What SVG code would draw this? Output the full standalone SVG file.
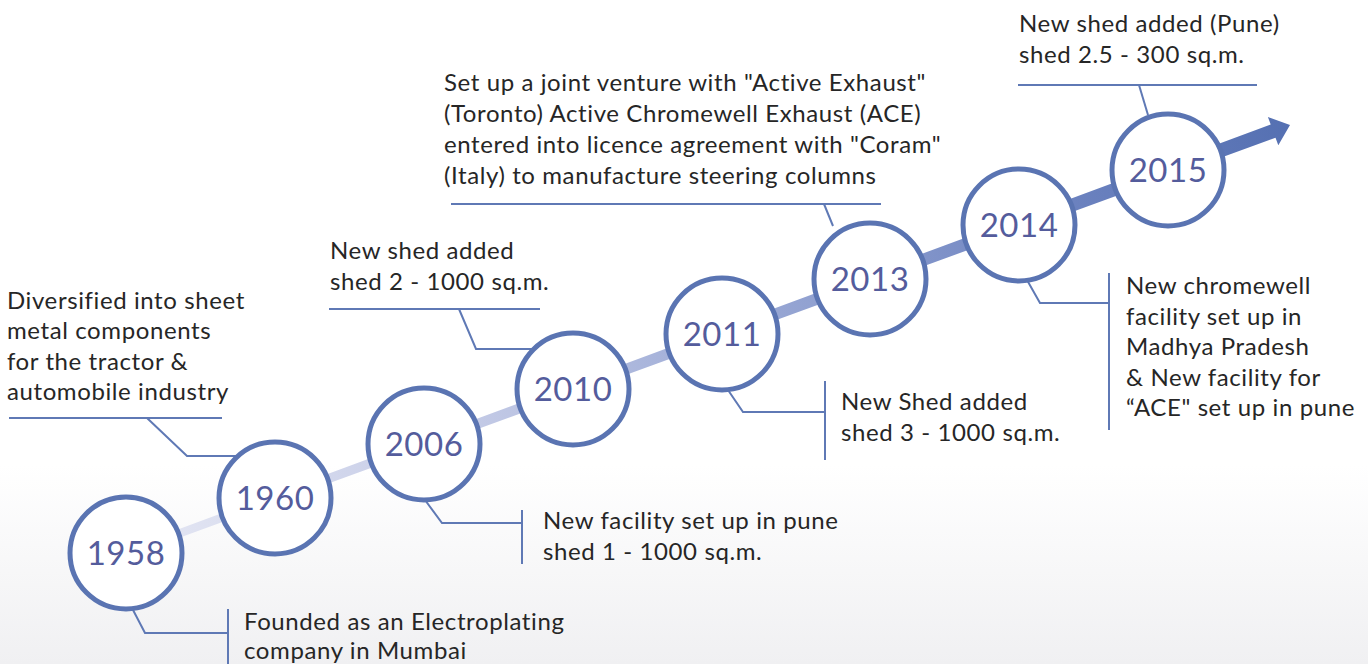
<svg xmlns="http://www.w3.org/2000/svg" width="1368" height="664" viewBox="0 0 1368 664">
<defs>
<linearGradient id="tl" gradientUnits="userSpaceOnUse" x1="126" y1="553" x2="1290" y2="125">
<stop offset="0" stop-color="#e6e8f4"/>
<stop offset="0.3" stop-color="#c3cae6"/>
<stop offset="0.55" stop-color="#98a7d4"/>
<stop offset="0.8" stop-color="#6d83c0"/>
<stop offset="1" stop-color="#5570b2"/>
</linearGradient>
<linearGradient id="bg" x1="0" y1="0" x2="0" y2="1">
<stop offset="0" stop-color="#ffffff"/>
<stop offset="0.7" stop-color="#ffffff"/>
<stop offset="1" stop-color="#f0f0f2"/>
</linearGradient>
<style>
.yr{fill:#ffffff;stroke:#5a74b2;stroke-width:5}
.yt{font-family:Lato,"Open Sans",sans-serif;font-size:33px;letter-spacing:0.5px;fill:#545c9c;text-anchor:middle}
.lb{font-family:Lato,"Open Sans",sans-serif;font-size:24px;letter-spacing:0.6px;fill:#262626}
.cn{fill:none;stroke:#5f79b5;stroke-width:2}
</style>
</defs>
<rect width="1368" height="664" fill="url(#bg)"/>
<g id="connectors">
<polygon fill="url(#tl)" points="124.6,549.2 1270.7,124.6 1267.9,117.1 1290,125 1278.3,145.3 1275.5,137.8 127.4,556.8"/>
<polyline class="cn" points="132,608 145,633 228,633"/>
<line class="cn" x1="228" y1="609" x2="228" y2="664"/>
<polyline class="cn" points="9,418 222,418"/>
<polyline class="cn" points="147,418 187,456 240,456"/>
<polyline class="cn" points="425,500 442,523 522,523"/>
<line class="cn" x1="522" y1="510" x2="522" y2="564"/>
<polyline class="cn" points="329,309 540,309"/>
<polyline class="cn" points="459,309 476,349 534,349"/>
<polyline class="cn" points="728,390 743,412 825,412"/>
<line class="cn" x1="825" y1="381" x2="825" y2="460"/>
<polyline class="cn" points="451,204 881,204"/>
<polyline class="cn" points="824,204 833,226"/>
<polyline class="cn" points="1027,280 1040,303 1109,303"/>
<line class="cn" x1="1109" y1="273" x2="1109" y2="430"/>
<polyline class="cn" points="1018,85 1257,85"/>
<polyline class="cn" points="1139,85 1148,115"/>
</g>
<g id="n1958"><circle class="yr" cx="126" cy="553" r="56"/><text class="yt" x="126" y="565">1958</text>
<text class="lb" x="244" y="630">Founded as an Electroplating</text><text class="lb" x="244" y="659">company in Mumbai</text></g>
<g id="n1960"><circle class="yr" cx="275" cy="498" r="56"/><text class="yt" x="275" y="510">1960</text>
<text class="lb" x="7" y="309">Diversified into sheet</text><text class="lb" x="7" y="339">metal components</text><text class="lb" x="7" y="370">for the tractor &amp;</text><text class="lb" x="7" y="400">automobile industry</text></g>
<g id="n2006"><circle class="yr" cx="424" cy="444" r="56"/><text class="yt" x="424" y="456">2006</text>
<text class="lb" x="543" y="529">New facility set up in pune</text><text class="lb" x="543" y="560">shed 1 - 1000 sq.m.</text></g>
<g id="n2010"><circle class="yr" cx="573" cy="389" r="56"/><text class="yt" x="573" y="401">2010</text>
<text class="lb" x="330" y="259">New shed added</text><text class="lb" x="330" y="290">shed 2 - 1000 sq.m.</text></g>
<g id="n2011"><circle class="yr" cx="722" cy="334" r="56"/><text class="yt" x="722" y="346">2011</text>
<text class="lb" x="841" y="410">New Shed added</text><text class="lb" x="841" y="441">shed 3 - 1000 sq.m.</text></g>
<g id="n2013"><circle class="yr" cx="870" cy="279" r="56"/><text class="yt" x="870" y="291">2013</text>
<text class="lb" x="444" y="91">Set up a joint venture with "Active Exhaust"</text><text class="lb" x="444" y="122">(Toronto) Active Chromewell Exhaust (ACE)</text><text class="lb" x="444" y="153">entered into licence agreement with "Coram"</text><text class="lb" x="444" y="184">(Italy) to manufacture steering columns</text></g>
<g id="n2014"><circle class="yr" cx="1019" cy="225" r="56"/><text class="yt" x="1019" y="237">2014</text>
<text class="lb" x="1126" y="294">New chromewell</text><text class="lb" x="1126" y="325">facility set up in</text><text class="lb" x="1126" y="355">Madhya Pradesh</text><text class="lb" x="1126" y="386">&amp; New facility for</text><text class="lb" x="1126" y="416">“ACE" set up in pune</text></g>
<g id="n2015"><circle class="yr" cx="1168" cy="170" r="56"/><text class="yt" x="1168" y="182">2015</text>
<text class="lb" x="1019" y="32">New shed added (Pune)</text><text class="lb" x="1019" y="63">shed 2.5 - 300 sq.m.</text></g>
</svg>
